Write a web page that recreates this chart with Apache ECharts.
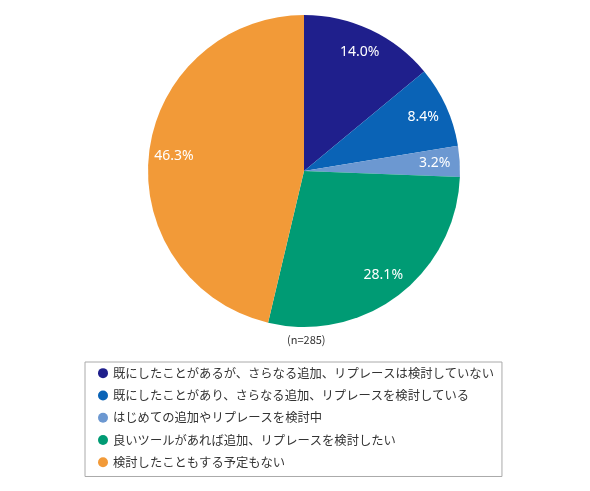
<!DOCTYPE html>
<html>
<head>
<meta charset="utf-8">
<script src="https://cdn.jsdelivr.net/npm/echarts@6/dist/echarts.min.js"></script>
<style>
  html, body { margin: 0; padding: 0; background: #fff; }
  #chart { width: 590px; height: 491px; }
</style>
</head>
<body>
<div id="chart"></div>
<script>
// answer categories, shares (%) and slice colours
const categories = [
  '既にしたことがあるが、さらなる追加、リプレースは検討していない',
  '既にしたことがあり、さらなる追加、リプレースを検討している',
  'はじめての追加やリプレースを検討中',
  '良いツールがあれば追加、リプレースを検討したい',
  '検討したこともする予定もない'
];
const shares = [14.0, 8.4, 3.2, 28.1, 46.3];
const colors = ['#1f1f8c', '#0a63b6', '#6c98d1', '#009b74', '#f29a38'];
const sampleNote = '(n=285)';

const font = '"Noto Sans CJK JP", "Noto Sans", sans-serif';
const chart = echarts.init(document.getElementById('chart'));

const slices = categories.map((name, i) => ({
  name: name,
  value: shares[i],
  itemStyle: { color: colors[i] }
}));

chart.setOption({
  animation: false,
  textStyle: { fontFamily: font },
  legend: {
    orient: 'vertical',
    left: 85,
    top: 362,
    data: categories,
    icon: 'circle',
    itemWidth: 10,
    itemHeight: 10,
    itemGap: 10,
    padding: [5, 8, 8, 13],
    borderColor: '#aaaaaa',
    borderWidth: 1,
    selectedMode: false,
    textStyle: { fontSize: 12.3, color: '#333', fontFamily: font }
  },
  graphic: [{
    type: 'text',
    left: 287,
    top: 334,
    style: { text: sampleNote, fontSize: 11, fill: '#333', fontFamily: font }
  }],
  series: [
    {
      type: 'pie',
      center: [304, 171],
      radius: [0, 156],
      startAngle: 90,
      clockwise: true,
      label: { show: false },
      labelLine: { show: false },
      itemStyle: { borderWidth: 0 },
      emphasis: { disabled: true },
      data: slices
    },
    {
      // label ring placed so that labels sit near the rim
      type: 'pie',
      center: [304, 171],
      radius: [100, 156],
      startAngle: 90,
      clockwise: true,
      silent: true,
      itemStyle: { color: 'rgba(0,0,0,0)' },
      label: {
        show: true,
        position: 'inside',
        color: '#ffffff',
        fontSize: 14,
        fontFamily: '"Noto Sans", sans-serif',
        formatter: p => p.value.toFixed(1) + '%'
      },
      labelLine: { show: false },
      emphasis: { disabled: true },
      data: categories.map((name, i) => ({ name: name + ' ', value: shares[i] }))
    }
  ]
});
</script>
</body>
</html>
